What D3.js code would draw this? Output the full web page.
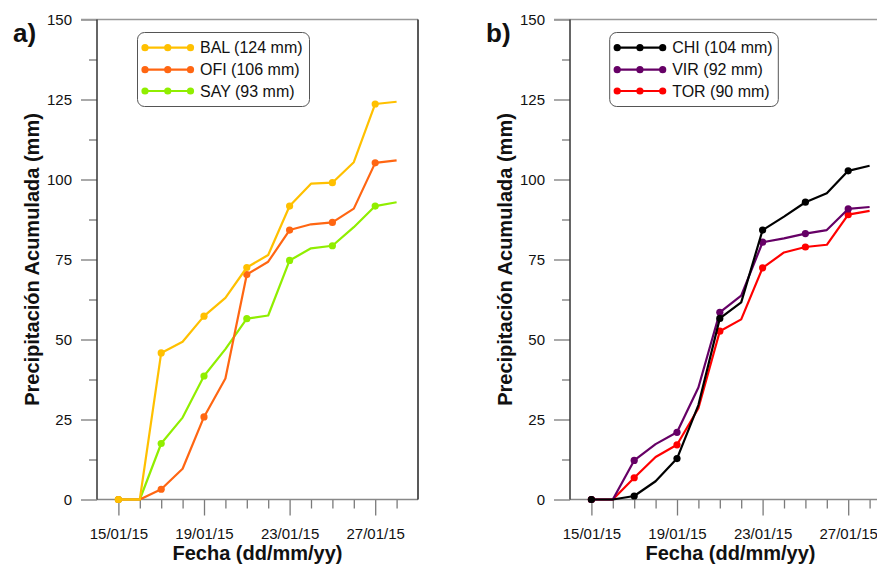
<!DOCTYPE html>
<html>
<head>
<meta charset="utf-8">
<script src="https://cdn.jsdelivr.net/npm/d3@7/dist/d3.min.js"></script>
<style>
  html, body { margin: 0; padding: 0; background: #fff; }
  svg { display: block; font-family: "Liberation Sans", Arial, sans-serif; }
</style>
</head>
<body>
<svg id="chart" width="877" height="565"></svg>
<script>
// ---- data ----
const dates = ["15/01/15","16/01/15","17/01/15","18/01/15","19/01/15","20/01/15","21/01/15",
               "22/01/15","23/01/15","24/01/15","25/01/15","26/01/15","27/01/15","28/01/15"];
const xTickLabels = ["15/01/15","19/01/15","23/01/15","27/01/15"];
const yTicks = [0, 25, 50, 75, 100, 125, 150];

const BAL = [0, 0, 45.8, 49.3, 57.3, 63.0, 72.5, 76.4, 91.7, 98.7, 99.0, 105.4, 123.6, 124.3];
const OFI = [0, 0, 3.2, 9.6, 25.8, 37.8, 70.3, 74.3, 84.2, 86.0, 86.6, 90.9, 105.2, 106.0];
const SAY = [0, 0, 17.5, 25.6, 38.6, 47.0, 56.5, 57.5, 74.7, 78.5, 79.3, 85.1, 91.7, 92.9];

const CHI = [0, 0, 1.1, 5.7, 12.8, 29.5, 56.6, 61.6, 84.2, 88.4, 92.9, 95.7, 102.7, 104.3];
const VIR = [0, 0, 12.2, 17.3, 21.0, 35.0, 58.5, 63.7, 80.4, 81.6, 83.1, 84.2, 90.8, 91.4];
const TOR = [0, 0, 6.8, 13.3, 17.1, 28.5, 52.6, 56.3, 72.4, 77.2, 78.9, 79.6, 89.0, 90.2];

const seriesA = [
  { name: "BAL (124 mm)", values: BAL, color: "#FFC000" },
  { name: "OFI (106 mm)", values: OFI, color: "#FF6612" },
  { name: "SAY (93 mm)",  values: SAY, color: "#90EE00" }
];
const seriesB = [
  { name: "CHI (104 mm)", values: CHI, color: "#000000" },
  { name: "VIR (92 mm)",  values: VIR, color: "#660066" },
  { name: "TOR (90 mm)",  values: TOR, color: "#FF0000" }
];

// ---- drawing ----
const parse = d3.utcParse("%d/%m/%y");
const fmt = d3.utcFormat("%d/%m/%y");
const svg = d3.select("#chart");
const FONT = "'Liberation Sans', Arial, sans-serif";

function panel(opts) {
  const { left, right, top, bottom, series, label, legendX, legendW } = opts;
  const g = svg.append("g");
  const x = d3.scaleUtc()
    .domain([parse("14/01/15"), parse("29/01/15")])
    .range([left, right]);
  const y = d3.scaleLinear().domain([0, 150]).range([bottom, top]);

  // minor y ticks
  const yMinor = d3.range(12.5, 150, 25);
  g.append("g").attr("transform", `translate(${left},0)`)
    .call(d3.axisLeft(y).tickValues(yMinor).tickSize(8).tickFormat(""))
    .call(s => s.select(".domain").remove())
    .call(s => s.selectAll("line").attr("stroke", "#7a7a7a").attr("stroke-width", 1.3));
  // major y ticks
  g.append("g").attr("transform", `translate(${left},0)`)
    .call(d3.axisLeft(y).tickValues(yTicks).tickSize(16).tickPadding(9).tickFormat(d3.format("d")))
    .call(s => s.select(".domain").remove())
    .call(s => s.selectAll("line").attr("stroke", "#7a7a7a").attr("stroke-width", 1.3))
    .call(s => s.selectAll("text").attr("font-size", 15).attr("font-family", FONT).attr("fill", "#111"));

  // x ticks
  const allDays = d3.utcDay.range(parse("15/01/15"), parse("29/01/15"));
  const majorSet = new Set(xTickLabels);
  const minorDays = allDays.filter(d => !majorSet.has(fmt(d)));
  g.append("g").attr("transform", `translate(0,${bottom})`)
    .call(d3.axisBottom(x).tickValues(minorDays).tickSize(9).tickFormat(""))
    .call(s => s.select(".domain").remove())
    .call(s => s.selectAll("line").attr("stroke", "#7a7a7a").attr("stroke-width", 1.3));
  g.append("g").attr("transform", `translate(0,${bottom})`)
    .call(d3.axisBottom(x).tickValues(xTickLabels.map(parse)).tickSize(16).tickPadding(13).tickFormat(fmt))
    .call(s => s.select(".domain").remove())
    .call(s => s.selectAll("line").attr("stroke", "#7a7a7a").attr("stroke-width", 1.3))
    .call(s => s.selectAll("text").attr("font-size", 15).attr("font-family", FONT).attr("fill", "#111"));

  // frame
  g.append("line").attr("x1", left - 16).attr("x2", right).attr("y1", top).attr("y2", top)
    .attr("stroke", "#999").attr("stroke-width", 1.5);
  g.append("line").attr("x1", left).attr("x2", right).attr("y1", bottom).attr("y2", bottom)
    .attr("stroke", "#888").attr("stroke-width", 1.5);
  g.append("line").attr("x1", left).attr("x2", left).attr("y1", top).attr("y2", bottom)
    .attr("stroke", "#333").attr("stroke-width", 1.5);
  g.append("line").attr("x1", right).attr("x2", right).attr("y1", top).attr("y2", bottom)
    .attr("stroke", "#222").attr("stroke-width", 1.5);

  // series (first in list drawn on top)
  const line = d3.line().x((d, i) => x(parse(dates[i]))).y(d => y(d));
  series.slice().reverse().forEach(s => {
    g.append("path").attr("d", line(s.values)).attr("fill", "none")
      .attr("stroke", s.color).attr("stroke-width", 2.2).attr("stroke-linejoin", "round");
    g.selectAll(null).data(s.values.map((v, i) => ({ v, i })).filter(d => d.i % 2 === 0))
      .enter().append("circle")
      .attr("cx", d => x(parse(dates[d.i]))).attr("cy", d => y(d.v)).attr("r", 3.6)
      .attr("fill", s.color);
  });

  // legend
  const lg = g.append("g");
  lg.append("rect").attr("x", legendX).attr("y", 32.5).attr("width", legendW).attr("height", 74)
    .attr("rx", 7).attr("fill", "#fff").attr("stroke", "#555").attr("stroke-width", 1);
  const rowY = [47.7, 69.7, 91];
  series.forEach((s, i) => {
    const lx0 = legendX + 7.5, lx1 = legendX + 53;
    lg.append("line").attr("x1", lx0).attr("x2", lx1).attr("y1", rowY[i]).attr("y2", rowY[i])
      .attr("stroke", s.color).attr("stroke-width", 2.2);
    [lx0, (lx0 + lx1) / 2, lx1].forEach(cx =>
      lg.append("circle").attr("cx", cx).attr("cy", rowY[i]).attr("r", 3.6).attr("fill", s.color));
    lg.append("text").attr("x", legendX + 62.5).attr("y", rowY[i]).attr("dy", "0.36em")
      .attr("font-size", 16).attr("font-family", FONT).attr("fill", "#111").text(s.name);
  });

  // titles
  g.append("text").attr("x", (left + right) / 2).attr("y", 560).attr("text-anchor", "middle")
    .attr("font-size", 20).attr("font-weight", "bold").attr("font-family", FONT).attr("fill", "#111")
    .text("Fecha (dd/mm/yy)");
  g.append("text").attr("transform", `translate(${left - 58.5},${(top + bottom) / 2}) rotate(-90)`)
    .attr("text-anchor", "middle")
    .attr("font-size", 20).attr("font-weight", "bold").attr("font-family", FONT).attr("fill", "#111")
    .text("Precipitación Acumulada (mm)");
  g.append("text").attr("x", left - 84).attr("y", 42)
    .attr("font-size", 26).attr("font-weight", "bold").attr("font-family", FONT).attr("fill", "#111")
    .text(label);
}

panel({ left: 97, right: 418, top: 19.5, bottom: 499.5, series: seriesA, label: "a)", legendX: 137.5, legendW: 172 });
panel({ left: 570, right: 891, top: 19.5, bottom: 499.5, series: seriesB, label: "b)", legendX: 609.7, legendW: 168.6 });
</script>
</body>
</html>
